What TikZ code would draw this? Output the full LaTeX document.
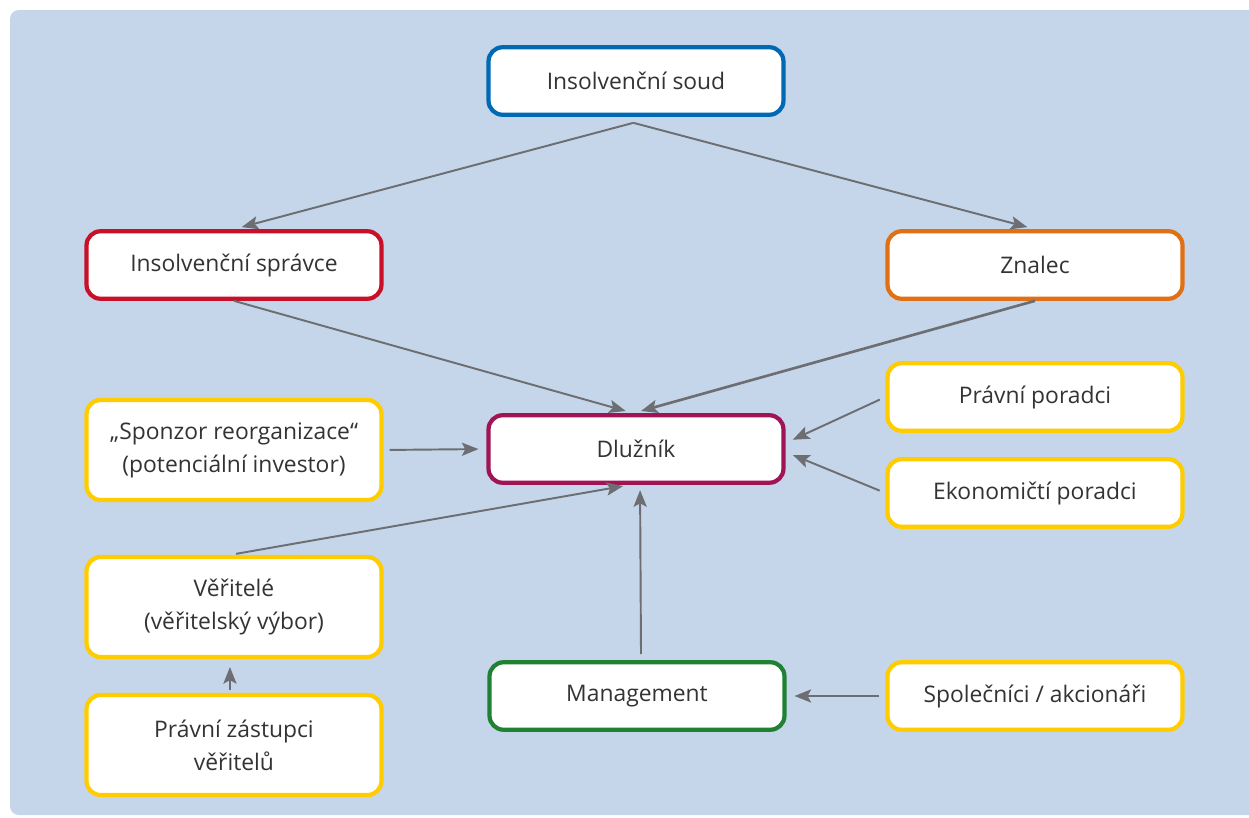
\documentclass[tikz,border=0pt]{standalone}
\usepackage{fontspec}
\setmainfont{Open Sans}
\usetikzlibrary{arrows.meta}
\definecolor{bgblue}{RGB}{197,213,234}
\definecolor{soudblue}{RGB}{0,105,180}
\definecolor{spravred}{RGB}{200,16,40}
\definecolor{znalorange}{RGB}{224,112,20}
\definecolor{dluzmagenta}{RGB}{160,20,85}
\definecolor{partyellow}{RGB}{255,204,0}
\definecolor{mgmtgreen}{RGB}{30,130,50}
\definecolor{arrowgray}{RGB}{109,110,113}
\definecolor{textgray}{RGB}{51,51,51}
\tikzset{
  box/.style={draw, line width=2.4pt, rounded corners=8pt, fill=white, text=textgray,
    minimum width=5.9cm, minimum height=1.35cm, align=center,
    font=\fontsize{13}{18.8}\selectfont},
  tall/.style={minimum height=2cm},
  link/.style={arrowgray, line width=1.1pt, shorten <=3.5pt, shorten >=4.5pt,
    -{Stealth[length=9.5pt,width=7.5pt,inset=2pt]}}
}

\begin{document}
\begin{tikzpicture}[x=0.02cm,y=-0.02cm]
\useasboundingbox (0,0) rectangle (1249,818);
\fill[bgblue, rounded corners=5pt] (1249,10) -- (10,10) -- (10,815) -- (1249,815);

\node[box, draw=soudblue] (soud) at (636,81) {Insolvenční soud};
\node[box, draw=spravred] (spravce) at (234,265) {Insolvenční správce};
\node[box, draw=znalorange] (znalec) at (1035,265) {Znalec};
\node[box, draw=dluzmagenta] (dluznik) at (636,449) {Dlužník};
\node[box, tall, draw=partyellow] (sponzor) at (234,450) {„Sponzor reorganizace“\\(potenciální investor)};
\node[box, draw=partyellow] (poradci-1) at (1035,397) {Právní poradci};
\node[box, draw=partyellow] (poradci-2) at (1035,493) {Ekonomičtí poradci};
\node[box, tall, draw=partyellow] (veritele) at (234,607) {Věřitelé\\(věřitelský výbor)};
\node[box, tall, draw=partyellow] (zastupci) at (234,745) {Právní zástupci\\věřitelů};
\node[box, draw=mgmtgreen] (mgmt) at (637,696) {Management};
\node[box, draw=partyellow] (spolecnici) at (1035,696) {Společníci / akcionáři};

\coordinate (soud-out) at ([xshift=-1.5pt,yshift=-3.4pt]soud.south);

\path[link, shorten <=0pt] (soud-out) edge (spravce.north);
\path[link, shorten <=0pt] (soud-out) edge (znalec.north);
\path[link, shorten <=0pt] (spravce.south) edge ([xshift=-1.5pt]dluznik.north);
\path[link, shorten <=0pt, line width=1.5pt] (znalec.south) edge ([xshift=-1.5pt]dluznik.north);
\path[link] (sponzor.east) edge (dluznik.west);
\path[link] (poradci-1.west) edge ([yshift=3.4pt]dluznik.east);
\path[link] (poradci-2.west) edge ([yshift=-1.7pt]dluznik.east);
\path[link, shorten >=4pt] ([xshift=-2.3pt]veritele.north) edge ([xshift=-3.4pt]dluznik.south);
\path[link, shorten >=3pt] ([xshift=2.3pt]mgmt.north) edge ([xshift=2.3pt]dluznik.south);
\path[link, shorten <=1.7pt] ([xshift=-2.3pt]zastupci.north) edge ([xshift=-2.3pt]veritele.south);
\path[link] (spolecnici.west) edge (mgmt.east);
\end{tikzpicture}
\end{document}
